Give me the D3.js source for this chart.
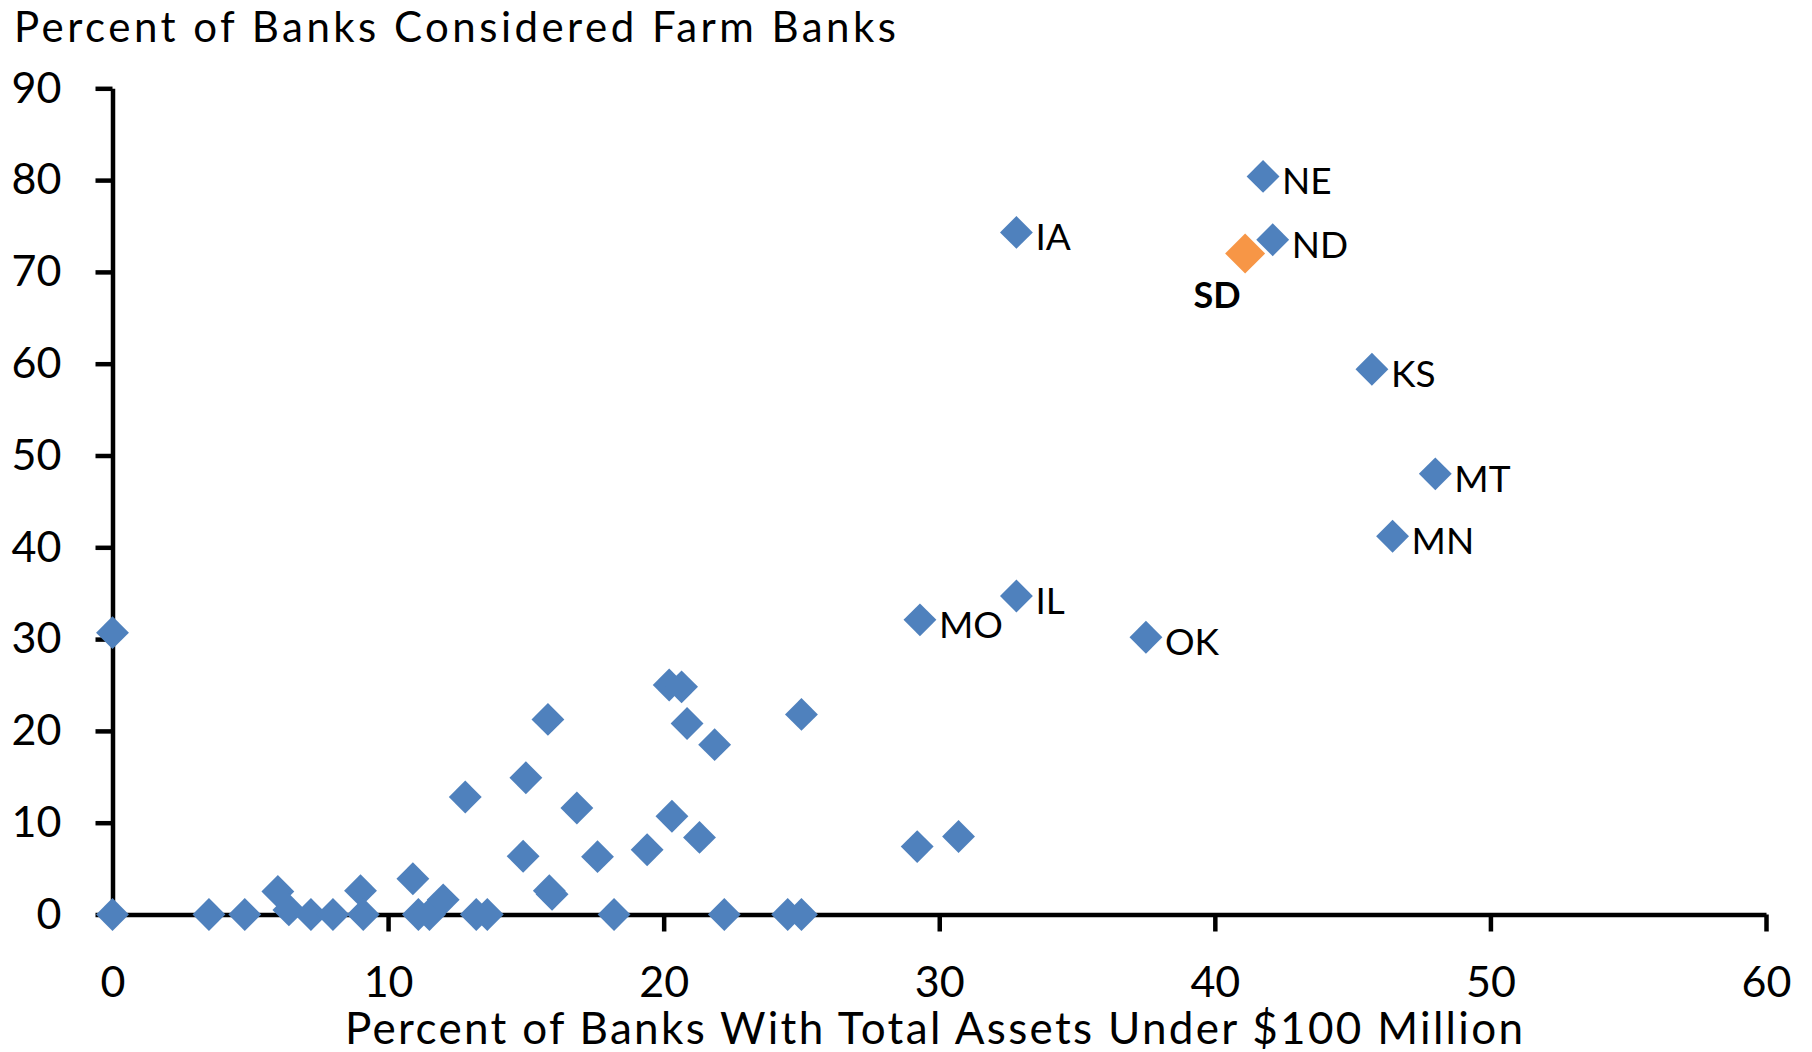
<!DOCTYPE html>
<html>
<head>
<meta charset="utf-8">
<script src="https://cdn.jsdelivr.net/npm/d3@7"></script>
<style>
  body { margin: 0; background: #fff; }
  svg { display: block; font-family: Lato, "Open Sans", sans-serif; }
</style>
</head>
<body>
<svg id="chart"></svg>
<script>
// percent of banks under $100M assets (x) vs percent considered farm banks (y)
let otherX = [0, 0, 3.5, 4.8, 6.0, 6.4, 7.2, 8.0, 9.0, 9.1, 10.9, 11.1, 11.5, 12.0, 12.8, 13.2, 13.6,
              14.9, 15.0, 15.8, 15.85, 15.95, 16.85, 17.6, 18.2, 19.4, 20.2, 20.65, 20.85, 20.3, 21.3,
              21.85, 22.2, 24.5, 25.0, 25.0, 29.2, 30.7];
let otherY = [30.7, 0, 0, 0, 2.5, 0.5, 0, 0, 2.6, 0, 3.9, 0, 0, 1.6, 12.8, 0, 0,
              6.35, 14.9, 21.25, 2.6, 2.2, 11.6, 6.3, 0, 7.05, 25.0, 24.8, 20.8, 10.7, 8.4,
              18.5, 0, 0, 0, 21.8, 7.4, 8.5];

let stateNames = ["IA", "NE", "ND", "KS", "MT", "MN", "IL", "MO", "OK"];
let stateX = [32.8, 41.75, 42.1, 45.7, 48.0, 46.45, 32.8, 29.3, 37.5];
let stateY = [74.3, 80.4, 73.5, 59.4, 48.0, 41.2, 34.7, 32.1, 30.2];

let sdName = "SD";
let sdX = 41.1;
let sdY = 72.0;

let xTicks = [0, 10, 20, 30, 40, 50, 60];
let yTicks = [0, 10, 20, 30, 40, 50, 60, 70, 80, 90];

let titleText = "Percent of Banks Considered Farm Banks";
let xTitleText = "Percent of Banks With Total Assets Under $100 Million";

const W = 1812, H = 1052;
const blue = "#4f81bd", orange = "#f79646";

var svg = d3.select("#chart").attr("width", W).attr("height", H);

var x = d3.scaleLinear().domain([0, 60]).range([112.5, 1766]);
var y = d3.scaleLinear().domain([0, 90]).range([914.5, 88.3]);

// title (y axis name sits on top)
svg.append("text")
    .attr("x", 14)
    .attr("y", 42)
    .attr("font-size", "42px")
    .attr("fill", "#000")
    .attr("textLength", 882)
    .attr("lengthAdjust", "spacing")
    .text(titleText);

// axes
var yAxis = svg.append("g")
    .attr("transform", "translate(" + x(0) + ",0)")
    .call(d3.axisLeft(y).tickValues(yTicks).tickSize(17).tickSizeOuter(0).tickPadding(34));
var xAxis = svg.append("g")
    .attr("transform", "translate(0," + y(0) + ")")
    .call(d3.axisBottom(x).tickValues(xTicks).tickSize(17).tickSizeOuter(0).tickPadding(35));

[yAxis, xAxis].forEach(function(ax) {
    ax.select(".domain").attr("stroke", "#000").attr("stroke-width", 4.5);
    ax.selectAll(".tick line").attr("stroke", "#000").attr("stroke-width", 4.5);
    ax.selectAll(".tick text")
        .attr("fill", "#000")
        .attr("font-size", "43px")
        .attr("font-family", "Lato, 'Open Sans', sans-serif");
});
xAxis.selectAll(".tick line").filter(function(d) { return d === 0; }).remove();

svg.append("text")
    .attr("x", 345)
    .attr("y", 1044)
    .attr("font-size", "44px")
    .attr("fill", "#000")
    .attr("textLength", 1178)
    .attr("lengthAdjust", "spacing")
    .text(xTitleText);

// diamonds
var bigDiamond = d3.symbol().type(d3.symbolSquare).size(800);
var diamond = d3.symbol().type(d3.symbolSquare).size(540);

svg.append("path")
    .attr("d", bigDiamond())
    .attr("transform", "translate(" + x(sdX) + "," + y(sdY) + ") rotate(45)")
    .attr("fill", orange);

svg.append("text")
    .attr("x", x(sdX) - 28)
    .attr("y", y(sdY) + 54)
    .attr("text-anchor", "middle")
    .attr("font-size", "36px")
    .attr("font-weight", "bold")
    .attr("fill", "#000")
    .text(sdName);

var others = otherX.map(function(v, i) { return { x: v, y: otherY[i] }; });
var states = stateNames.map(function(n, i) { return { name: n, x: stateX[i], y: stateY[i] }; });

svg.append("g")
    .selectAll("path")
    .data(others.concat(states))
    .enter()
    .append("path")
    .attr("d", diamond())
    .attr("transform", function(d) { return "translate(" + x(d.x) + "," + y(d.y) + ") rotate(45)"; })
    .attr("fill", blue);

svg.append("g")
    .selectAll("text")
    .data(states)
    .enter()
    .append("text")
    .attr("x", function(d) { return x(d.x) + 19; })
    .attr("y", function(d) { return y(d.y) + 18; })
    .attr("font-size", "37px")
    .attr("fill", "#000")
    .text(function(d) { return d.name; });
</script>
</body>
</html>
